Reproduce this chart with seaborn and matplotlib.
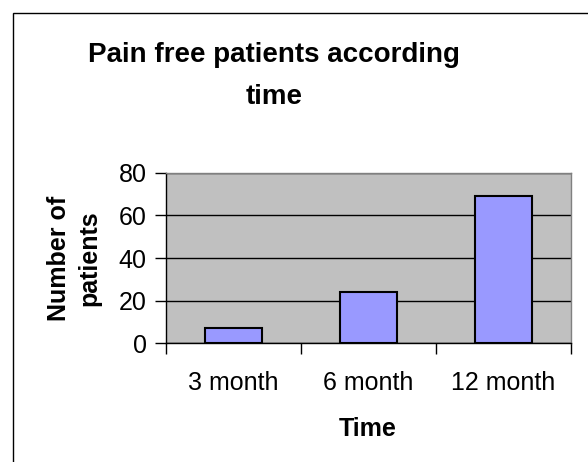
import matplotlib
matplotlib.use("Agg")
import matplotlib.pyplot as plt
import seaborn as sns
import pandas as pd
from matplotlib.patches import Rectangle

periods = ["3 month", "6 month", "12 month"]
pain_free = [7, 24, 69]

df = pd.DataFrame({"Time": periods, "Patients": pain_free})

sns.set_style("white")
plt.rcParams["font.family"] = ["Liberation Sans", "DejaVu Sans"]
plt.rcParams["text.color"] = "black"
plt.rcParams["xtick.labelcolor"] = "black"
plt.rcParams["ytick.labelcolor"] = "black"

fig = plt.figure(figsize=(5.88, 4.62), dpi=100)
ax = fig.add_axes([166 / 588, 1 - 343.3 / 462, 405 / 588, 170.6 / 462])
ax.set_facecolor("#c0c0c0")

sns.barplot(data=df, x="Time", y="Patients", color="#9999ff", width=0.415,
            edgecolor="black", linewidth=1.5, saturation=1, ax=ax, zorder=3)

ax.set_ylim(0, 80)
ax.set_xlim(-0.5, 2.5)
ax.set_yticks([0, 20, 40, 60, 80])
ax.grid(axis="y", color="black", linewidth=1, zorder=1)
ax.set_axisbelow(True)

for s in ["top", "right"]:
    ax.spines[s].set_color("#808080")
    ax.spines[s].set_linewidth(1)
for s in ["left", "bottom"]:
    ax.spines[s].set_color("black")
    ax.spines[s].set_linewidth(1)

ax.tick_params(axis="y", direction="out", length=8, width=1, color="black",
               labelsize=18, pad=6, left=True, labelcolor="black")
ax.tick_params(axis="x", which="major", length=0, labelsize=18, pad=20,
               labelcolor="black")
ax.set_xticks([-0.5, 0.5, 1.5, 2.5], minor=True)
ax.tick_params(axis="x", which="minor", direction="out", length=8, width=1,
               color="black", bottom=True)

ax.set_xlabel("")
ax.set_ylabel("")
fig.text(368 / 588, 1 - 429 / 462, "Time", ha="center", va="center",
         fontsize=18, fontweight="bold", color="black")
fig.text(74 / 588, 1 - 258 / 462, "Number of\npatients", ha="center",
         va="center", rotation=90, fontsize=18, fontweight="bold",
         linespacing=1.3, color="black")
fig.text(274 / 588, 1 - 76 / 462, "Pain free patients according\ntime",
         ha="center", va="center", fontsize=20, fontweight="bold",
         linespacing=1.75, color="black")

fig.patches.append(Rectangle((13 / 588, -0.1), 1.2, (462 - 13) / 462 + 0.1,
                             transform=fig.transFigure, fill=False,
                             edgecolor="black", linewidth=1))

fig.savefig("out.png", dpi=100)
